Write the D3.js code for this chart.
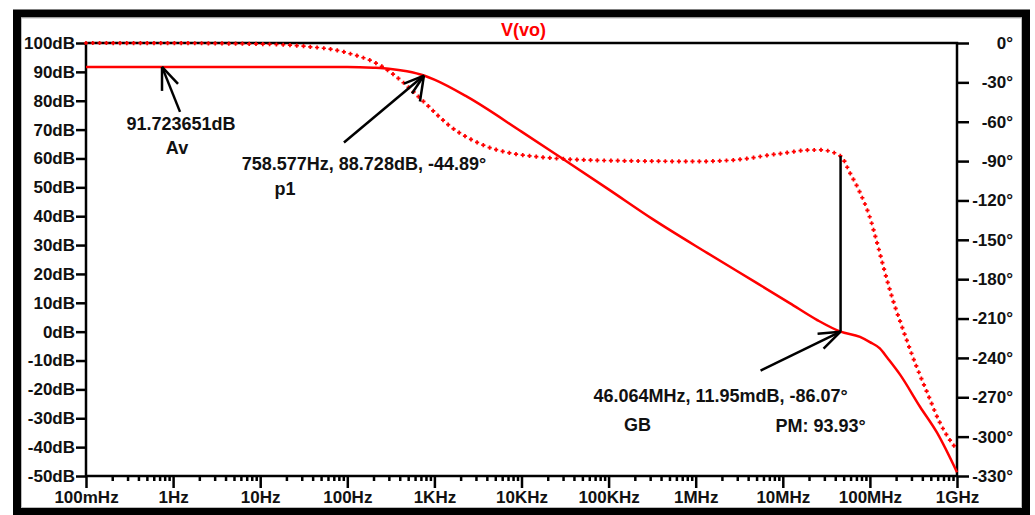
<!DOCTYPE html>
<html>
<head>
<meta charset="utf-8">
<script src="https://cdn.jsdelivr.net/npm/d3@7"></script>
<style>
  html, body { margin: 0; padding: 0; background: #fff; }
  svg { display: block; }
  text { font-family: "Liberation Sans", Arial, sans-serif; font-weight: bold; font-size: 17px; fill: #111; }
  .note { font-size: 18px; }
</style>
</head>
<body>
<div id="chart"></div>
<script>
// magnitude trace (solid)
const magFreq = [0.1, 1, 10, 100, 200, 300, 484, 758.577, 1000, 2366, 1e4, 2.77e4, 1e5, 3.24e5, 1.35e6, 5e6, 1.2e7, 2.46e7, 4.6064e7, 7.7e7, 1e8, 1.3e8, 1.6e8, 2.21e8, 3.76e8, 5.9e8, 1e9];
const magDb = [91.72, 91.72, 91.72, 91.7, 91.43, 91.09, 90.2, 88.728, 87.3, 81.4, 69.3, 60.5, 49.3, 38.9, 27.3, 16.9, 9.9, 4.1, 0.012, -1.8, -3.6, -5.8, -9.2, -14.8, -26, -35, -48.7];

// phase trace (dotted)
const phaseFreq = [0.1, 1, 10, 30, 100, 237, 400, 758.577, 1500, 3613, 1.63e4, 1e5, 1.12e6, 2.7e6, 8.58e6, 2.04e7, 2.7e7, 4.6064e7, 5.9e7, 7.7e7, 1e8, 1.24e8, 1.49e8, 1.84e8, 2.33e8, 3.18e8, 4.52e8, 6.32e8, 9e8, 1e9];
const phaseDeg = [0, -0.1, -0.8, -2.3, -7.5, -17, -27.8, -44.89, -63.2, -77.7, -86.9, -89.6, -90.2, -89.2, -84.6, -81.6, -81.5, -86.07, -99, -114, -133, -155, -175, -196, -216, -241, -266, -289, -306, -310];

// axis ticks
const decadeTicks = [0.1, 1, 10, 100, 1e3, 1e4, 1e5, 1e6, 1e7, 1e8, 1e9];
const decadeLabels = ['100mHz', '1Hz', '10Hz', '100Hz', '1KHz', '10KHz', '100KHz', '1MHz', '10MHz', '100MHz', '1GHz'];
const dbTicks = [100, 90, 80, 70, 60, 50, 40, 30, 20, 10, 0, -10, -20, -30, -40, -50];
const degTicks = [0, -30, -60, -90, -120, -150, -180, -210, -240, -270, -300, -330];

// cursor annotations
const cursors = [
  { f: 0.746, db: 91.72, lines: ['91.723651dB', 'Av'], tail: [18, 45], heads: [[0, 24], [16, 17]],
    text: [[19, 58], [15, 82]] },
  { f: 758.577, db: 88.728, lines: ['758.577Hz, 88.728dB, -44.89°', 'p1'], tail: [-80, 67], heads: [[-20, 8], [-12, 18], [-4, 26]],
    text: [[-60, 90], [-139, 115]] },
  { f: 46.064e6, db: 0.01195, lines: ['46.064MHz, 11.95mdB, -86.07°', 'GB'], tail: [-80, 39], heads: [[-23, 2], [-17, 17]],
    text: [[-120, 66], [-203, 95]] }
];
const pmFreq = 46.064e6;
const pmPhase = -86.07;

const W = 1035, H = 515;
const margin = { top: 43, right: 78, bottom: 39, left: 86 };
const width = W - margin.left - margin.right;
const height = H - margin.top - margin.bottom;

const x = d3.scaleLog().domain([0.1, 1e9]).range([0, width]);
const yDb = d3.scaleLinear().domain([-50, 100]).range([height, 0]);
const yDeg = d3.scaleLinear().domain([-330, 0]).range([height, 0]);

const root = d3.select('#chart').append('svg')
  .attr('width', W)
  .attr('height', H);

root.append('rect').attr('width', W).attr('height', H).attr('fill', '#fff');

// outer window frame
root.append('rect')
  .attr('x', 17).attr('y', 13.5)
  .attr('width', 1009).attr('height', 498.5)
  .attr('fill', 'none').attr('stroke', '#000').attr('stroke-width', 8);
root.append('rect')
  .attr('x', 21.5).attr('y', 18)
  .attr('width', 1000).attr('height', 489.5)
  .attr('fill', 'none').attr('stroke', '#bbb').attr('stroke-width', 1);

root.append('text')
  .attr('x', margin.left + width / 2 + 2)
  .attr('y', 31)
  .attr('text-anchor', 'middle')
  .attr('dominant-baseline', 'middle')
  .style('fill', '#ff0000')
  .style('font-size', '18px')
  .text('V(vo)');

const svg = root.append('g')
  .attr('transform', `translate(${margin.left}, ${margin.top})`);

// minor log ticks
const minorTicks = [];
decadeTicks.slice(0, -1).forEach(d => {
  for (let k = 2; k < 10; k++) minorTicks.push(d * k);
});
svg.append('g')
  .attr('class', 'minor')
  .attr('transform', `translate(0, ${height})`)
  .call(d3.axisBottom(x).tickValues(minorTicks).tickSize(5).tickFormat(''))
  .call(g => g.select('.domain').remove());

svg.append('g')
  .attr('transform', `translate(0, ${height})`)
  .call(d3.axisBottom(x).tickValues(decadeTicks).tickSize(12).tickPadding(3)
    .tickFormat((d, i) => decadeLabels[i]));

svg.append('g')
  .call(d3.axisLeft(yDb).tickValues(dbTicks).tickSize(10).tickPadding(1)
    .tickFormat(d => d + 'dB'));

const y2Axis = svg.append('g')
  .attr('transform', `translate(${width}, 0)`)
  .call(d3.axisRight(yDeg).tickValues(degTicks).tickSize(12)
    .tickFormat(d => d + '°'));
y2Axis.selectAll('text').attr('x', 56).attr('text-anchor', 'end');

svg.selectAll('.tick line').attr('stroke', '#000').attr('stroke-width', 2.5);
svg.selectAll('.domain').remove();
svg.selectAll('.tick text').attr('font-size', null).attr('font-family', null).attr('fill', null);

// plot box
svg.append('rect')
  .attr('width', width).attr('height', height)
  .attr('fill', 'none').attr('stroke', '#000').attr('stroke-width', 2.5);

// phase trace: "+" markers along the curve
const phaseLine = d3.line()
  .x((d, i) => x(phaseFreq[i]))
  .y(d => yDeg(d))
  .curve(d3.curveMonotoneX);
const phasePath = svg.append('path')
  .attr('d', phaseLine(phaseDeg))
  .attr('fill', 'none')
  .attr('stroke', 'none');
const len = phasePath.node().getTotalLength();
const marks = d3.range(0, len, 6.8).map(l => phasePath.node().getPointAtLength(l));
svg.append('g')
  .selectAll('path')
  .data(marks)
  .enter()
  .append('path')
  .attr('d', p => `M${p.x - 2.1},${p.y}H${p.x + 2.1}M${p.x},${p.y - 2.1}V${p.y + 2.1}`)
  .attr('stroke', '#ff0000')
  .attr('stroke-width', 1.7);

// magnitude trace
const magLine = d3.line()
  .x((d, i) => x(magFreq[i]))
  .y(d => yDb(d))
  .curve(d3.curveMonotoneX);
svg.append('path')
  .attr('d', magLine(magDb))
  .attr('fill', 'none')
  .attr('stroke', '#ff0000')
  .attr('stroke-width', 2.5);

// phase margin cursor line
svg.append('line')
  .attr('x1', x(pmFreq)).attr('x2', x(pmFreq))
  .attr('y1', yDb(0.01195)).attr('y2', yDeg(pmPhase))
  .attr('stroke', '#000').attr('stroke-width', 2.5);

// arrows + labels
cursors.forEach(c => {
  const tx = x(c.f), ty = yDb(c.db);
  const g = svg.append('g');
  g.append('line')
    .attr('x1', tx).attr('y1', ty)
    .attr('x2', tx + c.tail[0]).attr('y2', ty + c.tail[1])
    .attr('stroke', '#000').attr('stroke-width', 2.5);
  c.heads.forEach(h => {
    g.append('line')
      .attr('x1', tx).attr('y1', ty)
      .attr('x2', tx + h[0]).attr('y2', ty + h[1])
      .attr('stroke', '#000').attr('stroke-width', 2.5);
  });
  c.lines.forEach((t, i) => {
    g.append('text')
      .attr('class', 'note')
      .attr('x', tx + c.text[i][0])
      .attr('y', ty + c.text[i][1])
      .attr('text-anchor', 'middle')
      .attr('dominant-baseline', 'middle')
      .text(t);
  });
});

svg.append('text')
  .attr('class', 'note')
  .attr('x', x(pmFreq) - 20)
  .attr('y', yDb(0.01195) + 96)
  .attr('text-anchor', 'middle')
  .attr('dominant-baseline', 'middle')
  .text('PM: ' + (180 + pmPhase).toFixed(2) + '°');
</script>
</body>
</html>
